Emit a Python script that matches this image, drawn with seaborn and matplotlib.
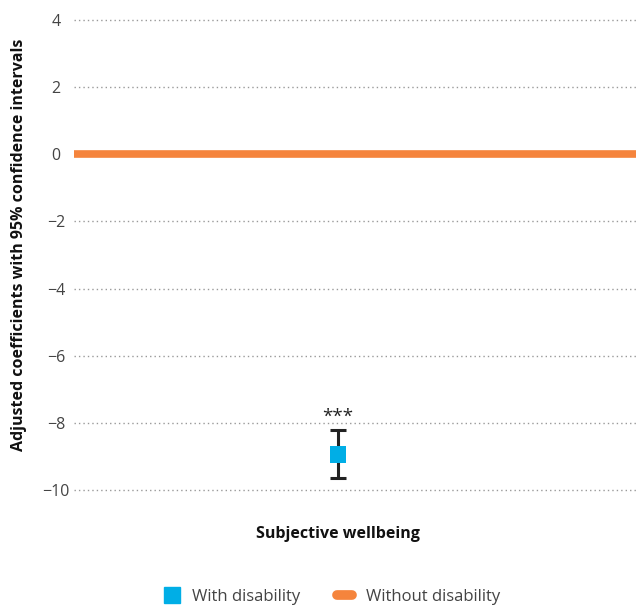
import numpy as np
import pandas as pd
import matplotlib
matplotlib.use("Agg")
import matplotlib.pyplot as plt
import seaborn as sns
from matplotlib.lines import Line2D

# data
categories = ["Subjective wellbeing"]
with_coef = [-8.95]
with_low = [-9.65]
with_high = [-8.2]
without_coef = 0.0
stars = ["***"]
yticks = [4, 2, 0, -2, -4, -6, -8, -10]

BLUE = "#00aee6"
ORANGE = "#f5843c"

sns.set_theme(style="white")
plt.rcParams['font.family'] = ['Open Sans', 'DejaVu Sans']

df = pd.DataFrame({"cat": categories, "coef": with_coef, "lo": with_low, "hi": with_high})

fig = plt.figure(figsize=(6.36, 6.10), dpi=100)
ax = fig.add_axes([74 / 636, 0.1803, 1 - 74 / 636, 0.8033])

# reference line (without disability)
ax.axhline(without_coef, color=ORANGE, lw=5.5, solid_capstyle="round", zorder=3)

xpos = np.arange(len(categories))
ax.errorbar(xpos, df["coef"], yerr=[df["coef"] - df["lo"], df["hi"] - df["coef"]],
            fmt="none", ecolor="#222222", elinewidth=2.2, capsize=5.5, capthick=2.2, zorder=4)
sns.scatterplot(x=xpos, y=df["coef"], marker="s", s=140, color=BLUE, edgecolor="none",
                ax=ax, zorder=5, legend=False)
for x, h, s in zip(xpos, df["hi"], stars):
    ax.text(x, h + 0.12, s, ha="center", va="bottom", fontsize=13.5, color="#222222")

ax.set_ylim(-10.3, 4.3)
ax.set_xlim(-0.47, 0.53)
ax.set_yticks(yticks)
ax.set_yticklabels([str(t).replace("-", "\u2212") for t in yticks], ha="center")
ax.set_xticks([])
ax.grid(axis="y", color="#999999", linestyle=(0, (1, 2.2)), linewidth=1)
for sp in ax.spines.values():
    sp.set_visible(False)
ax.tick_params(axis="y", length=0, pad=13, labelsize=11.5, labelcolor="#444444")

ax.set_ylabel("Adjusted coefficients with 95% confidence intervals", fontsize=11.5,
              fontweight="bold", color="#111111")
ax.yaxis.set_label_coords(-0.083, 0.52)
ax.text(0, -11.3, categories[0], ha="center", va="center", fontsize=11.5,
        fontweight="bold", color="#111111")

handles = [
    Line2D([], [], marker="s", color=BLUE, linestyle="none", markersize=11.5),
    Line2D([], [], color=ORANGE, lw=7, solid_capstyle="round"),
]
fig.legend(handles, ["With disability", "Without disability"], loc="center",
           bbox_to_anchor=(0.522, 0.022), ncol=2, frameon=False, fontsize=12,
           handlelength=0.9, columnspacing=2.2, handletextpad=0.8,
           labelcolor="#444444")

fig.savefig("out.png", dpi=100)
